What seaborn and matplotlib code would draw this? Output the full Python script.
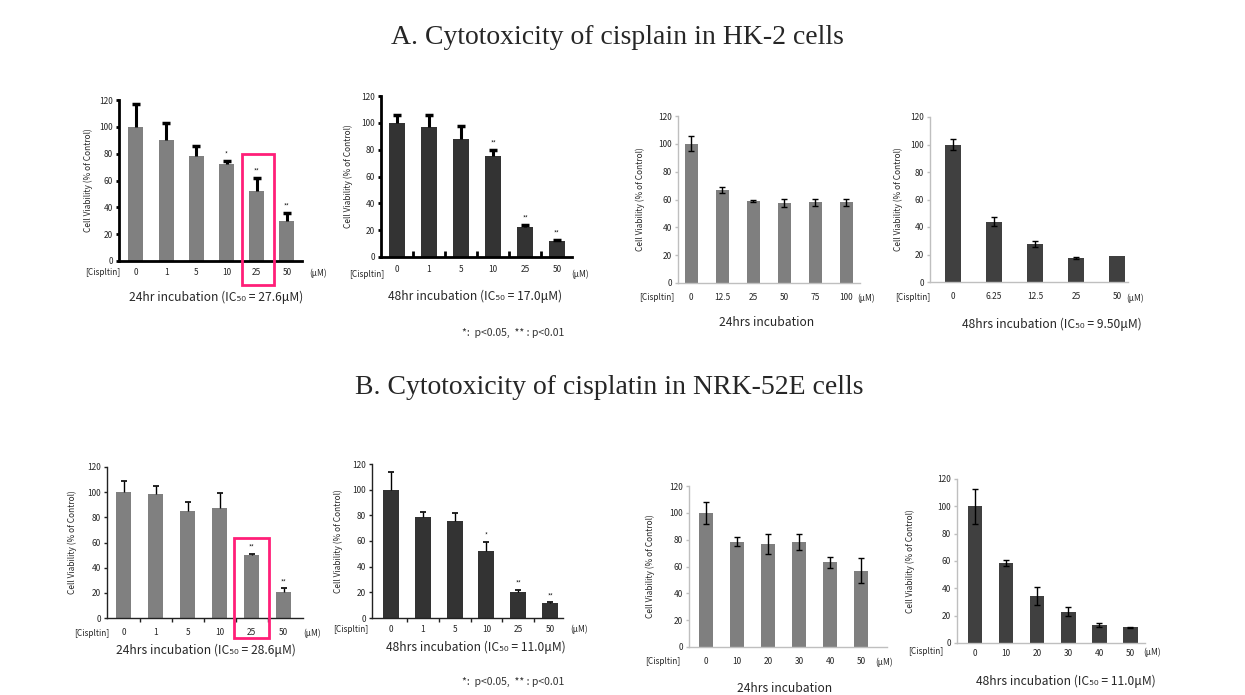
import matplotlib
matplotlib.use("Agg")
import matplotlib.pyplot as plt
import seaborn as sns
from matplotlib.patches import Rectangle

sns.set_style("white")
plt.rcParams['font.family'] = ['Noto Sans CJK KR', 'DejaVu Sans']

W, H = 1245, 695

# ---------------- data ----------------
A_title = "A. Cytotoxicity of cisplain in HK-2 cells"
B_title = "B. Cytotoxicity of cisplatin in NRK-52E cells"
footnote = "*:  p<0.05,  ** : p<0.01"
ylabel = "Cell Viability (% of Control)"
x_prefix = "[Cispltin]"
x_unit = "(μM)"

A1_conc = ["0", "1", "5", "10", "25", "50"]
A1_mean = [100, 90, 78, 72, 52, 30]
A1_err = [17, 13, 8, 2.5, 10, 6]
A1_stars = ["", "", "", "*", "**", "**"]
A1_title = "24hr incubation (IC₅₀ = 27.6μM)"

A2_conc = ["0", "1", "5", "10", "25", "50"]
A2_mean = [100, 97, 88, 75, 22.5, 12]
A2_err = [6, 9, 10, 5, 1.5, 1]
A2_stars = ["", "", "", "**", "**", "**"]
A2_title = "48hr incubation (IC₅₀ = 17.0μM)"

A3_conc = ["0", "12.5", "25", "50", "75", "100"]
A3_mean = [100, 67, 59, 57.5, 58, 58]
A3_err = [5.5, 2, 0.7, 3, 2.5, 2.5]
A3_stars = ["", "", "", "", "", ""]
A3_title = "24hrs incubation"

A4_conc = ["0", "6.25", "12.5", "25", "50"]
A4_mean = [100, 44, 27.5, 17.5, 19]
A4_err = [4, 3, 2, 0.5, 0]
A4_stars = ["", "", "", "", ""]
A4_title = "48hrs incubation (IC₅₀ = 9.50μM)"

B1_conc = ["0", "1", "5", "10", "25", "50"]
B1_mean = [100, 98.5, 85, 87.5, 50, 21]
B1_err = [9, 6.5, 7, 11.5, 1, 2.5]
B1_stars = ["", "", "", "", "**", "**"]
B1_title = "24hrs incubation (IC₅₀ = 28.6μM)"

B2_conc = ["0", "1", "5", "10", "25", "50"]
B2_mean = [100, 79, 75.5, 52, 20.5, 11.5]
B2_err = [14, 3.5, 6, 7.5, 1.5, 0.7]
B2_stars = ["", "", "", "*", "**", "**"]
B2_title = "48hrs incubation (IC₅₀ = 11.0μM)"

B3_conc = ["0", "10", "20", "30", "40", "50"]
B3_mean = [100, 78.5, 77, 78.5, 63, 57]
B3_err = [8, 3.5, 7.5, 6, 4, 9]
B3_stars = ["", "", "", "", "", ""]
B3_title = "24hrs incubation"

B4_conc = ["0", "10", "20", "30", "40", "50"]
B4_mean = [100, 58.5, 34.5, 23, 13, 11.5]
B4_err = [13, 2, 6.5, 3.5, 1.5, 0.5]
B4_stars = ["", "", "", "", "", ""]
B4_title = "48hrs incubation (IC₅₀ = 11.0μM)"

# ---------------- layout ----------------
fig = plt.figure(figsize=(W / 100, H / 100), dpi=100)
fig.patch.set_facecolor("white")


def ftext(x, y, s, **kw):
    fig.text(x / W, 1 - y / H, s, **kw)


def draw_panel(conc, mean, err, stars, title, box, xlim, bw, color, style,
               one_sided, pad, ylab_x, pre_x, unit_x, lab_y, title_xy,
               hl=None, minor=False):
    left, right, y0, ytop = box
    ax = fig.add_axes([left / W, 1 - y0 / H, (right - left) / W, (y0 - ytop) / H])
    sns.barplot(x=conc, y=mean, ax=ax, color=color, width=bw, errorbar=None,
                saturation=1, order=conc, edgecolor=color, linewidth=0)
    n = len(conc)
    idx = [i for i in range(n) if err[i] > 0]
    ys = [mean[i] for i in idx]
    es = [err[i] for i in idx]
    if style == "bold":
        elw, cs, ct = 2.2, 3.0, 2.5
    elif style == "thin":
        elw, cs, ct = 1.0, 2.5, 1.2
    else:
        elw, cs, ct = 1.0, 2.0, 1.0
    yerr = [[0] * len(es), es] if one_sided else es
    eb = ax.errorbar(idx, ys, yerr=yerr, fmt="none", ecolor="black",
                     elinewidth=elw, capsize=cs, capthick=ct, zorder=3)
    if one_sided:
        eb[1][0].set_visible(False)
    for i in range(n):
        if stars[i]:
            ax.text(i, mean[i] + err[i] + 1.5, stars[i], ha="center",
                    va="bottom", fontsize=4.5, color="#222222")
    ax.set_ylim(0, 120)
    ax.set_yticks(range(0, 121, 20))
    ax.set_xlim(*xlim)
    for s in ["top", "right"]:
        ax.spines[s].set_visible(False)
    if style == "bold":
        sc, slw = "black", 2.0
    elif style == "thin":
        sc, slw = "#222222", 1.0
    else:
        sc, slw = "#bfbfbf", 1.0
    for s in ["left", "bottom"]:
        ax.spines[s].set_color(sc)
        ax.spines[s].set_linewidth(slw)
    ax.tick_params(axis="y", left=True, length=2.5, width=slw, color=sc,
                   pad=2, labelsize=6)
    ax.tick_params(axis="x", bottom=True, length=0, pad=pad, labelsize=6)
    if minor:
        ax.set_xticks([i + 0.5 for i in range(n - 1)], minor=True)
        ax.tick_params(axis="x", which="minor", bottom=True,
                       direction="in" if style == "bold" else "out",
                       length=4 if style == "bold" else 3, width=slw, color=sc)
    ax.set_xlabel("")
    ax.set_ylabel(ylabel, fontsize=6)
    ax.yaxis.set_label_coords((ylab_x - left) / (right - left), 0.5)
    ftext(pre_x, lab_y, x_prefix, ha="center", va="center", fontsize=6)
    ftext(unit_x, lab_y, x_unit, ha="center", va="center", fontsize=6)
    ftext(title_xy[0], title_xy[1], title, ha="center", va="center", fontsize=8.7)
    if hl is not None:
        x0, x1, yb, yt = hl
        ax.add_patch(Rectangle((x0, yb), x1 - x0, yt - yb, fill=False,
                               edgecolor="#ff1f78", linewidth=2.0,
                               clip_on=False, zorder=5))
    return ax


draw_panel(A1_conc, A1_mean, A1_err, A1_stars, A1_title,
           (119, 302, 261, 100), (-0.56, 5.5), 0.5, "#808080", "bold", True,
           5.0, 93, 103, 318, 273, (216, 297), hl=(3.5, 4.56, -18, 80))
draw_panel(A2_conc, A2_mean, A2_err, A2_stars, A2_title,
           (381, 572, 257, 96), (-0.5, 5.47), 0.48, "#333333", "bold", True,
           5.5, 353, 367, 580, 274, (475, 296), minor=True)
draw_panel(A3_conc, A3_mean, A3_err, A3_stars, A3_title,
           (678, 860, 283, 116), (-0.42, 5.45), 0.42, "#7f7f7f", "excel", False,
           7.0, 645, 657, 866, 298, (767, 323))
draw_panel(A4_conc, A4_mean, A4_err, A4_stars, A4_title,
           (930, 1128, 282, 117), (-0.56, 4.27), 0.4, "#404040", "excel", False,
           7.5, 903, 913, 1135, 298, (1052, 324))
draw_panel(B1_conc, B1_mean, B1_err, B1_stars, B1_title,
           (107, 303, 618, 467), (-0.53, 5.6), 0.47, "#808080", "thin", True,
           7.0, 77, 92, 312, 633, (206, 650), hl=(3.44, 4.53, -16, 63.6),
           minor=True)
draw_panel(B2_conc, B2_mean, B2_err, B2_stars, B2_title,
           (372, 563, 618, 464), (-0.6, 5.41), 0.5, "#333333", "thin", True,
           5.0, 343, 351, 579, 629, (476, 647), minor=True)
draw_panel(B3_conc, B3_mean, B3_err, B3_stars, B3_title,
           (689, 887, 647, 486), (-0.55, 5.84), 0.45, "#7f7f7f", "excel", False,
           7.0, 655, 663, 884, 662, (785, 688))
draw_panel(B4_conc, B4_mean, B4_err, B4_stars, B4_title,
           (957, 1145, 643, 479), (-0.58, 5.48), 0.48, "#404040", "excel", False,
           4.0, 915, 926, 1152, 652, (1066, 681))

ftext(617, 38, A_title, ha="center", va="center", fontsize=20,
      family=["Liberation Serif", "DejaVu Serif"])
ftext(609, 387, B_title, ha="center", va="center", fontsize=20,
      family=["Liberation Serif", "DejaVu Serif"])
ftext(513, 333, footnote, ha="center", va="center", fontsize=7.5, color="#333333")
ftext(513, 682, footnote, ha="center", va="center", fontsize=7.5, color="#333333")

fig.savefig("out.png", dpi=100, facecolor="white")
